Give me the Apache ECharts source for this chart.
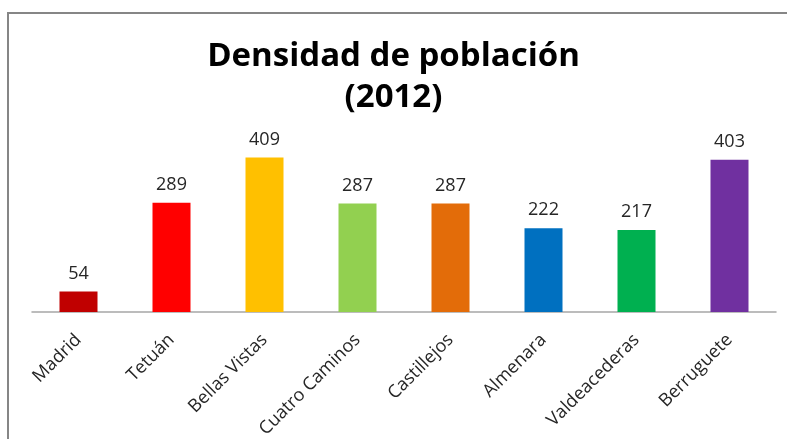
<!DOCTYPE html>
<html>
<head>
<meta charset="utf-8">
<script src="https://cdn.jsdelivr.net/npm/echarts@6/dist/echarts.min.js"></script>
<style>
html,body{margin:0;padding:0;background:#fff;}
#chart{width:787px;height:439px;}
</style>
</head>
<body>
<div id="chart"></div>
<script>
const categories = ['Madrid','Tetuán','Bellas Vistas','Cuatro Caminos','Castillejos','Almenara','Valdeacederas','Berruguete'];
const values = [54, 289, 409, 287, 287, 222, 217, 403];
const colors = ['#C00000','#FF0000','#FFC000','#92D050','#E36C09','#0070C0','#00B050','#7030A0'];
const titleText = 'Densidad de población\n(2012)';

const chart = echarts.init(document.getElementById('chart'));
chart.setOption({
  animation: false,
  backgroundColor: '#ffffff',
  textStyle: { fontFamily: 'Open Sans' },
  graphic: [{
    type: 'rect',
    shape: { x: 8, y: 13, width: 900, height: 600 },
    style: { fill: 'none', stroke: '#868686', lineWidth: 2 },
    silent: true
  }],
  title: {
    text: titleText,
    left: 'center',
    top: 31,
    textStyle: { fontFamily: 'Open Sans', fontWeight: 'bold', fontSize: 33, lineHeight: 41, color: '#000' }
  },
  grid: { left: 32, right: 11, top: 142, bottom: 127, containLabel: false, outerBoundsMode: 'none' },
  xAxis: {
    type: 'category',
    data: categories,
    axisLine: { lineStyle: { color: '#A6A6A6', width: 1.5 } },
    axisTick: { show: false },
    axisLabel: { rotate: 45, interval: 0, margin: 25, fontSize: 18, color: '#262626', fontFamily: 'Open Sans' }
  },
  yAxis: {
    type: 'value', min: 0, max: 450, show: false, splitLine: { show: false }
  },
  series: [{
    type: 'bar',
    barWidth: 38,
    data: values.map((v, i) => ({ value: v, itemStyle: { color: colors[i] } })),
    label: { show: true, position: 'top', distance: 9, fontSize: 18, color: '#262626', fontFamily: 'Open Sans' }
  }]
});
</script>
</body>
</html>
